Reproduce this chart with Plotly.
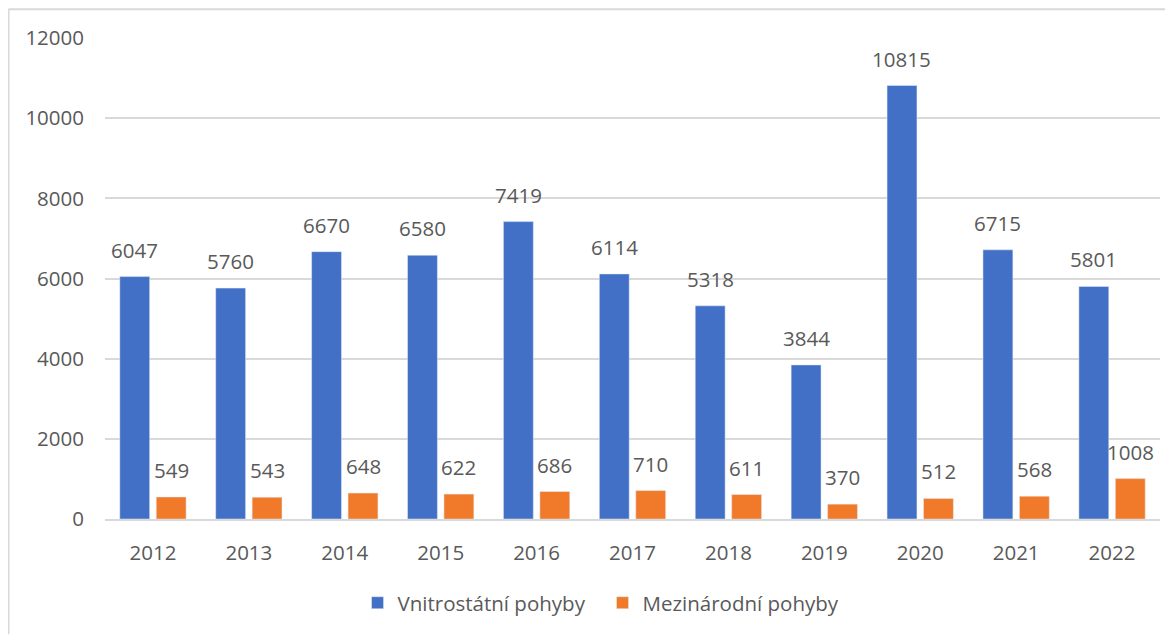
import plotly.graph_objects as go

years = ["2012", "2013", "2014", "2015", "2016", "2017", "2018", "2019", "2020", "2021", "2022"]
domestic = [6047, 5760, 6670, 6580, 7419, 6114, 5318, 3844, 10815, 6715, 5801]
international = [549, 543, 648, 622, 686, 710, 611, 370, 512, 568, 1008]

font_family = "Open Sans, Liberation Sans, sans-serif"
text_color = "#595959"
fsize = 20.5

fig = go.Figure()
fig.add_trace(
    go.Bar(x=years, y=domestic, name="Vnitrostátní pohyby", marker=dict(color="#4270c6"))
)
fig.add_trace(
    go.Bar(x=years, y=international, name="Mezinárodní pohyby", marker=dict(color="#f07a2a"))
)

# value labels above the bars (a bit more room than plotly's own outside text)
# numeric-looking category names are read as serial numbers by annotations, so use the index
annotations = []
for values, shift in [(domestic, -18.25), (international, 18.25)]:
    for i, v in enumerate(values):
        annotations.append(
            dict(
                x=i, y=v, xref="x", yref="y", text=str(v), showarrow=False,
                xshift=shift, yshift=11, yanchor="bottom",
                font=dict(size=fsize, color=text_color, family=font_family),
            )
        )

# page has an 8px body margin, so the figure itself is a little smaller
fig.update_layout(
    width=1165,
    height=626,
    margin=dict(l=97, r=13, t=30, b=114),
    paper_bgcolor="white",
    plot_bgcolor="white",
    barmode="group",
    bargap=0.24,
    bargroupgap=0.18,
    font=dict(family=font_family, color=text_color, size=fsize),
    annotations=annotations,
    legend=dict(
        orientation="h",
        x=0.4716,
        xanchor="center",
        y=-0.172,
        yanchor="middle",
        font=dict(size=fsize, color=text_color),
        itemwidth=30,
        entrywidth=200,
    ),
    shapes=[
        dict(type="line", xref="paper", yref="paper", x0=-0.0915, x1=-0.0915, y0=1.06, y1=-0.4,
             line=dict(color="#d9d9d9", width=2)),
        dict(type="line", xref="paper", yref="paper", x0=-0.0915, x1=1.1, y0=1.06, y1=1.06,
             line=dict(color="#d9d9d9", width=2)),
    ],
)
fig.update_yaxes(
    range=[0, 12000],
    dtick=2000,
    tickformat="d",
    showgrid=True,
    gridcolor="#d9d9d9",
    gridwidth=1.5,
    zeroline=False,
    showline=False,
    tickfont=dict(size=fsize, color=text_color),
    ticklabelstandoff=20,
)
fig.update_xaxes(
    type="category",
    showline=True,
    linecolor="#d9d9d9",
    linewidth=1.5,
    tickfont=dict(size=fsize, color=text_color),
    ticklabelstandoff=15,
)

fig.write_html("out.html")
